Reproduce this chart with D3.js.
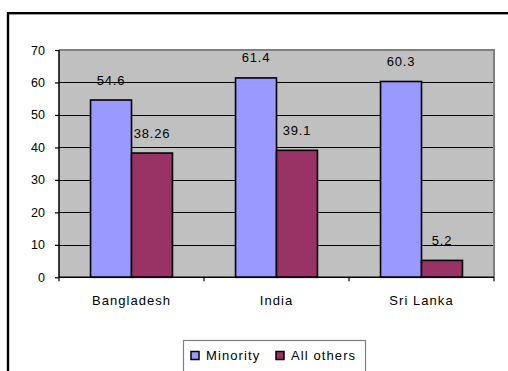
<!DOCTYPE html>
<html><head><meta charset="utf-8">
<script src="https://cdn.jsdelivr.net/npm/d3@7"></script>
<style>
html,body{margin:0;padding:0;background:#fff;overflow:hidden;}
svg{display:block;font-family:"Liberation Sans",Arial,sans-serif;}
</style></head>
<body>
<svg id="chart" width="508" height="371"></svg>
<script>
const categories = ["Bangladesh", "India", "Sri Lanka"];
const seriesNames = ["Minority", "All others"];
const minority = [54.6, 61.4, 60.3];
const allOthers = [38.26, 39.1, 5.2];
const valueLabels = [["54.6", "38.26"], ["61.4", "39.1"], ["60.3", "5.2"]];
const yTicks = [0, 10, 20, 30, 40, 50, 60, 70];
const colors = ["#9999FF", "#993366"];

const svg = d3.select("#chart");
const plot = {left: 59, right: 494, top: 50, bottom: 277.3};

// outer frame
svg.append("rect").attr("x", 8).attr("y", 13.2).attr("width", 530).attr("height", 400)
  .attr("fill", "#fff").attr("stroke", "#000").attr("stroke-width", 2.4);

const y = d3.scaleLinear().domain([0, 70]).range([plot.bottom, plot.top]);
const x0 = d3.scaleBand().domain(categories).range([plot.left, plot.right]).padding(0);
const x1 = d3.scaleBand().domain(seriesNames).range([0, x0.bandwidth()])
  .paddingInner(0).paddingOuter(0.77);

// plot background
svg.append("rect").attr("x", plot.left).attr("y", plot.top)
  .attr("width", plot.right - plot.left).attr("height", plot.bottom - plot.top)
  .attr("fill", "#C0C0C0");

// gridlines
svg.append("g").selectAll("line").data(yTicks.filter(t => t > 0 && t < 70)).join("line")
  .attr("x1", plot.left).attr("x2", plot.right)
  .attr("y1", d => Math.round(y(d)) + 0.5).attr("y2", d => Math.round(y(d)) + 0.5)
  .attr("stroke", "#000").attr("stroke-width", 1);

// top & right border
svg.append("path")
  .attr("d", `M${plot.left},${plot.top} H${plot.right} V${plot.bottom}`)
  .attr("fill", "none").attr("stroke", "#808080").attr("stroke-width", 2);

// bars
const data = categories.map((c, i) => ({cat: c, vals: [minority[i], allOthers[i]], labels: valueLabels[i]}));
const groups = svg.append("g").selectAll("g").data(data).join("g")
  .attr("transform", d => `translate(${x0(d.cat)},0)`);
groups.selectAll("rect").data(d => d.vals.map((v, j) => ({s: seriesNames[j], v, j}))).join("rect")
  .attr("x", d => x1(d.s)).attr("y", d => y(d.v))
  .attr("width", x1.bandwidth()).attr("height", d => y(0) - y(d.v))
  .attr("fill", d => colors[d.j]).attr("stroke", "#000").attr("stroke-width", 1.6);
groups.selectAll("text").data(d => d.vals.map((v, j) => ({s: seriesNames[j], v, j, label: d.labels[j]}))).join("text")
  .attr("x", d => x1(d.s) + x1.bandwidth() / 2).attr("y", d => y(d.v) - 15.5)
  .attr("text-anchor", "middle").attr("font-size", 13).attr("letter-spacing", 0.8)
  .attr("fill", "#000").text(d => d.label);

// y axis
const yAxis = d3.axisLeft(y).tickValues(yTicks).tickSize(4).tickPadding(10).tickFormat(d3.format("d"));
const gy = svg.append("g").attr("transform", `translate(${plot.left},0)`).call(yAxis);
gy.select(".domain").attr("stroke", "#000").attr("stroke-width", 1.5).attr("d", `M0,${plot.top}V${plot.bottom}`);
gy.selectAll(".tick line").attr("stroke", "#000").attr("stroke-width", 1.2);
gy.selectAll(".tick text").attr("font-size", 12.5).attr("font-family", "Liberation Sans, Arial, sans-serif")
  .attr("fill", "#000");

// x axis
const gx = svg.append("g").attr("transform", `translate(0,${plot.bottom})`);
gx.append("line").attr("x1", plot.left).attr("x2", plot.right).attr("y1", 0).attr("y2", 0)
  .attr("stroke", "#000").attr("stroke-width", 1.5);
gx.selectAll(".xt").data(categories).join("line").attr("class", "xt")
  .attr("x1", d => x0(d) + x0.bandwidth()).attr("x2", d => x0(d) + x0.bandwidth())
  .attr("y1", 0).attr("y2", 4).attr("stroke", "#000").attr("stroke-width", 1.2);
gx.append("line").attr("x1", plot.left).attr("x2", plot.left).attr("y1", 0).attr("y2", 4)
  .attr("stroke", "#000").attr("stroke-width", 1.2);
gx.selectAll(".xl").data(categories).join("text").attr("class", "xl")
  .attr("x", d => x0(d) + x0.bandwidth() / 2).attr("y", 28)
  .attr("text-anchor", "middle").attr("font-size", 13).attr("letter-spacing", 1.05)
  .attr("fill", "#000").text(d => d);

// legend
const lg = svg.append("g");
lg.append("rect").attr("x", 183.5).attr("y", 340.5).attr("width", 182).attr("height", 60)
  .attr("fill", "#fff").attr("stroke", "#808080").attr("stroke-width", 1.2);
const legendX = [191, 276];
seriesNames.forEach((s, i) => {
  lg.append("rect").attr("x", legendX[i]).attr("y", 351.5).attr("width", 8).attr("height", 8)
    .attr("fill", colors[i]).attr("stroke", "#000").attr("stroke-width", 1.5);
  lg.append("text").attr("x", legendX[i] + 15).attr("y", 359.5)
    .attr("font-size", 13).attr("letter-spacing", 1.1).attr("fill", "#000").text(s);
});
</script>
</body></html>
